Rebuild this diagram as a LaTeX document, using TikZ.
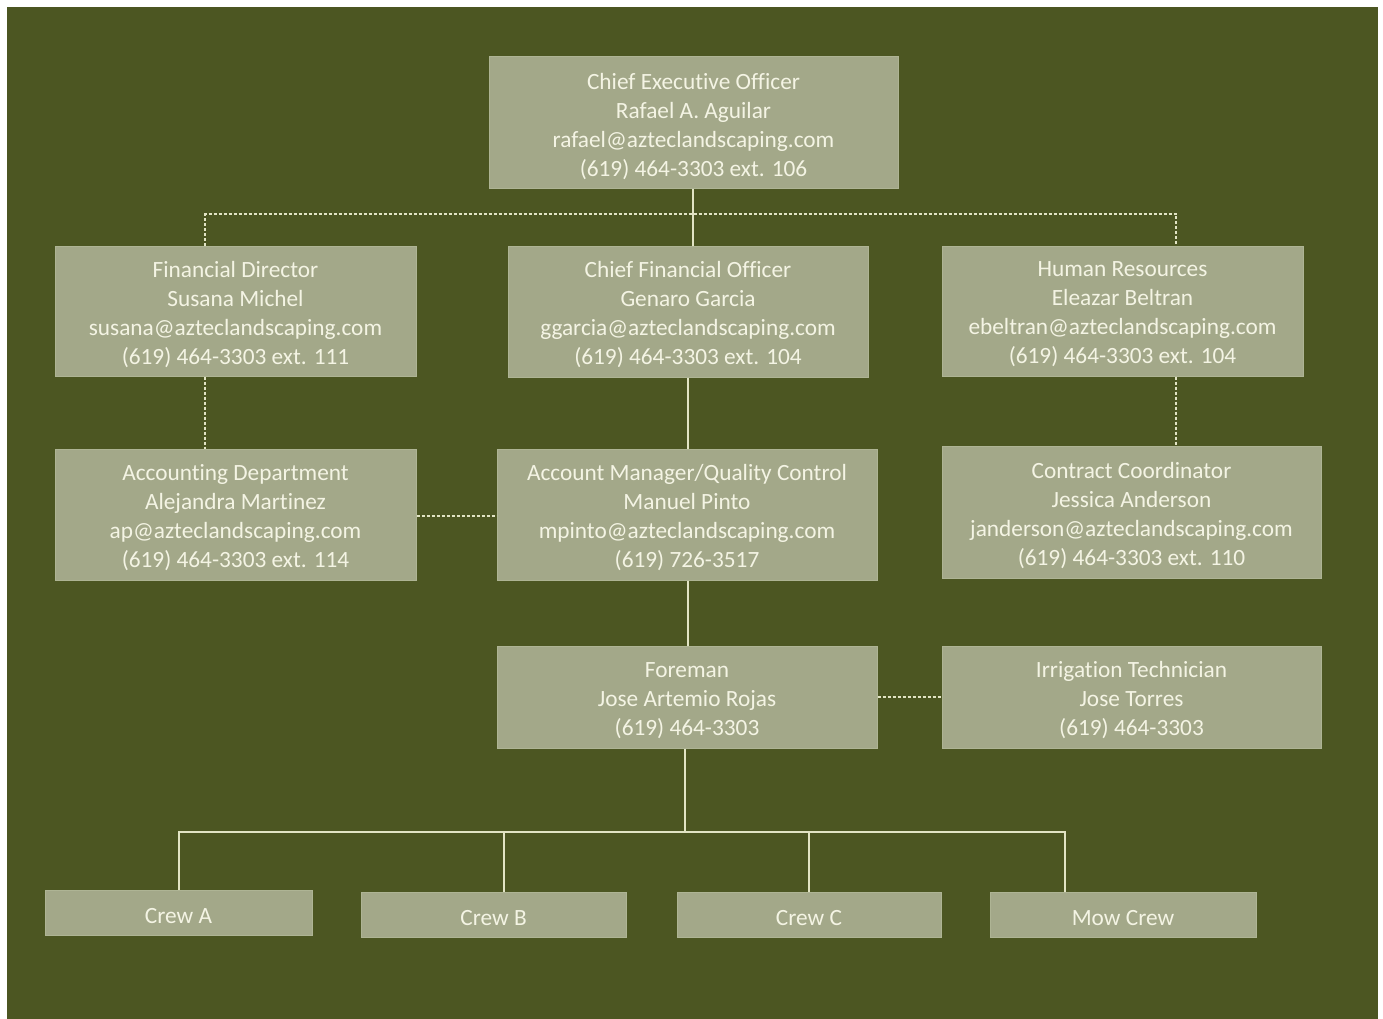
\documentclass[tikz,border=0pt]{standalone}
\usepackage{fontspec}
\setmainfont{Carlito}[Ligatures={NoCommon}]
\begin{document}
\begin{tikzpicture}[x=1pt,y=-1pt,
  box/.style={fill=boxc, draw=boxe, line width=1pt, inner sep=0pt},
  boxtext/.style={text=txt, align=center, inner sep=0pt, font=\fontsize{23.3}{29}\selectfont},
  conn/.style={draw=linec, line width=1.4pt},
  dconn/.style={draw=linec, line width=1.4pt, dash pattern=on 3pt off 2pt}]
\definecolor{bg}{RGB}{76,86,34}
\definecolor{boxc}{RGB}{163,168,137}
\definecolor{boxe}{RGB}{174,180,148}
\definecolor{txt}{RGB}{244,244,228}
\definecolor{linec}{RGB}{226,228,196}
\useasboundingbox (0,0) rectangle (1383,1019);
\fill[white] (0,0) rectangle (1383,1019);
\fill[bg] (7,7) rectangle (1378,1019);
\newcommand{\bx}[6]{\node[box, minimum width=#4-#2, minimum height=#5-#3] (#1) at ({(#2+#4)/2},{(#3+#5)/2}) {};
  \node[boxtext] (#1-t) at ([yshift=-3.5pt]#1.center) {#6};}
\bx{ceo}{489}{57}{898}{189}{Chief Executive Officer\\Rafael A. Aguilar\\rafael@azteclandscaping.com\\(619) 464-3303 ext. 106}
\bx{fd}{55}{246}{416}{376}{Financial Director\\Susana Michel\\susana@azteclandscaping.com\\(619) 464-3303 ext. 111}
\bx{cfo}{508}{246}{868}{377}{Chief Financial Officer\\Genaro Garcia\\ggarcia@azteclandscaping.com\\(619) 464-3303 ext. 104}
\bx{hr}{942}{246}{1303}{376}{Human Resources\\Eleazar Beltran\\ebeltran@azteclandscaping.com\\(619) 464-3303 ext. 104}
\bx{acc}{55}{449}{416}{580}{Accounting Department\\Alejandra Martinez\\ap@azteclandscaping.com\\(619) 464-3303 ext. 114}
\bx{am}{497}{449}{877}{580}{Account Manager/Quality Control\\Manuel Pinto\\mpinto@azteclandscaping.com\\(619) 726-3517}
\bx{cc}{942}{446}{1321}{578}{Contract Coordinator\\Jessica Anderson\\janderson@azteclandscaping.com\\(619) 464-3303 ext. 110}
\bx{fm}{497}{646}{877}{748}{Foreman\\Jose Artemio Rojas\\(619) 464-3303}
\bx{it}{942}{646}{1321}{748}{Irrigation Technician\\Jose Torres\\(619) 464-3303}
\bx{ca}{45}{890}{312}{935}{Crew A}
\bx{cb}{361}{892}{626}{937}{Crew B}
\bx{cc2}{677}{892}{941}{937}{Crew C}
\bx{mc}{990}{892}{1256}{937}{Mow Crew}
% connectors
\coordinate (bar) at (693,214);
\coordinate (fmbar) at (685,832);
\draw[conn] (ceo.south -| bar) -- (cfo.north -| bar);
\draw[dconn] (fd.north -| 205,0) |- (bar) -| (hr.north -| 1176,0);
\draw[dconn] (fd.south -| 205,0) -- (acc.north -| 205,0);
\draw[dconn] (hr.south -| 1176,0) -- (cc.north -| 1176,0);
\draw[conn] (cfo.south -| 688,0) -- (am.north -| 688,0);
\draw[dconn] (acc.east |- 0,516) -- (am.west |- 0,516);
\draw[conn] (am.south -| 688,0) -- (fm.north -| 688,0);
\draw[dconn] (fm.east |- 0,697) -- (it.west |- 0,697);
\draw[conn] (fm.south -| fmbar) -- (fmbar);
\draw[conn] (ca.north -| 179,0) |- (fmbar) -| (mc.north -| 1065,0);
\draw[conn] (cb.north -| 504,0) -- (504,832);
\draw[conn] (cc2.north -| 809,0) -- (809,832);
\end{tikzpicture}
\end{document}
